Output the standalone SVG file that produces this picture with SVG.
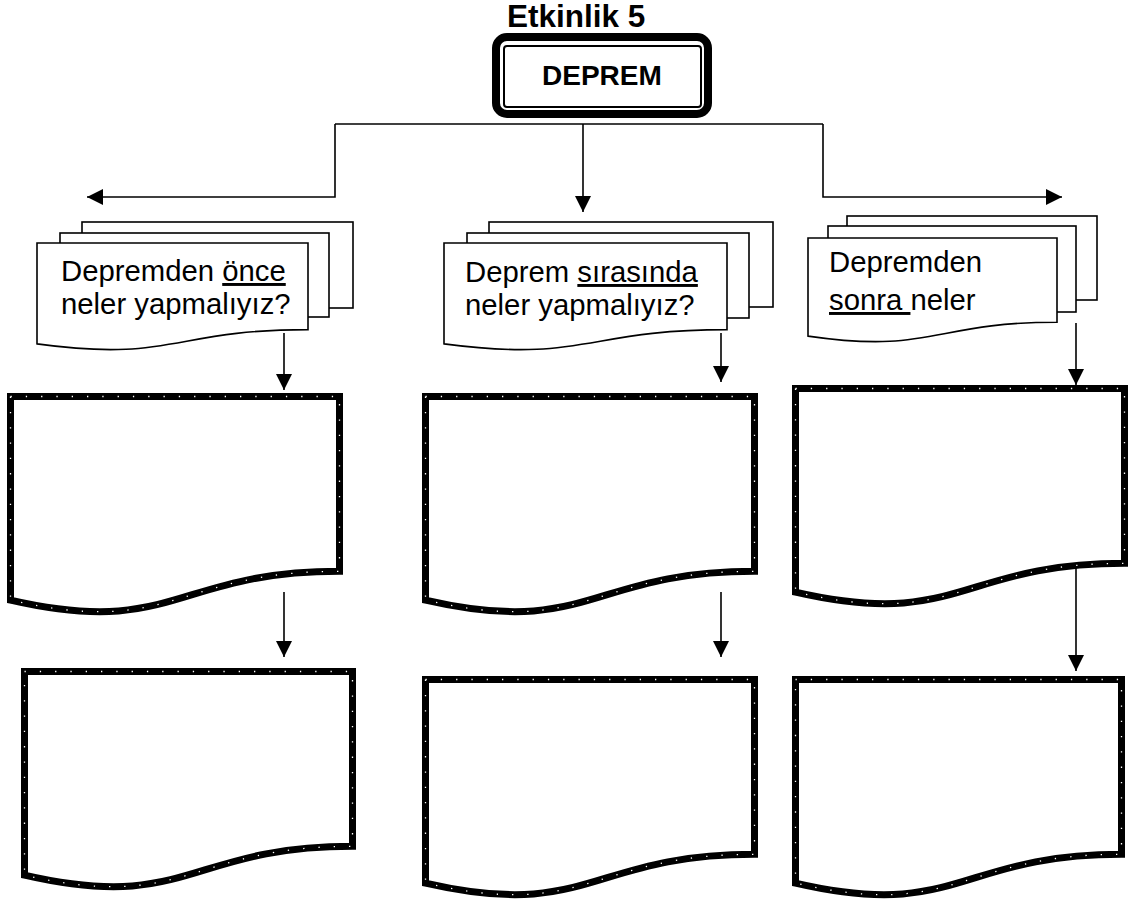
<svg xmlns="http://www.w3.org/2000/svg" xmlns:xlink="http://www.w3.org/1999/xlink" width="1134" height="902" viewBox="0 0 1134 902">
<style>
  text { font-family: "Liberation Sans", Arial, sans-serif; fill: #000; }
  .title { font-size: 31.5px; font-weight: bold; }
  .head { font-size: 28px; font-weight: bold; }
  .lbl { font-size: 29.3px; }
  .sheet { fill: #fff; stroke: #000; stroke-width: 1.6; }
  .thick { fill: #fff; stroke: #000; stroke-width: 7; stroke-linejoin: miter; }
  .dots { fill: none; stroke: #fff; stroke-width: 1.3; stroke-dasharray: 1.3 14; }
  .con { fill: none; stroke: #000; stroke-width: 1.6; }
</style>
<defs>
  <marker id="arr" viewBox="0 0 16 16" refX="16" refY="8" markerWidth="16" markerHeight="16" markerUnits="userSpaceOnUse" orient="auto">
    <path d="M0,0 L16,8 L0,16 z" fill="#000"/>
  </marker>
  <path id="p1" d="M10.5,396.5 H339.5 V571.3 C175,571.3 175,637.9 10.5,600.1 Z"/>
  <path id="p2" d="M425.5,396.5 H754.5 V571.3 C590,571.3 590,637.9 425.5,600.1 Z"/>
  <path id="p3" d="M24.5,671.5 H352.5 V846.3 C188.5,846.3 188.5,912.9 24.5,875.1 Z"/>
  <path id="p4" d="M425.5,679.5 H754.5 V854.3 C590,854.3 590,920.9 425.5,883.1 Z"/>
  <path id="p5" d="M795.5,388.5 H1124.5 V563.3 C960,563.3 960,629.9 795.5,592.1 Z"/>
  <path id="p6" d="M795.5,679.5 H1121.5 V854.3 C958.5,854.3 958.5,920.9 795.5,883.1 Z"/>
</defs>
<rect width="1134" height="902" fill="#fff"/>

<g id="title">
  <text class="title" x="507" y="27">Etkinlik 5</text>
</g>

<g id="deprem">
  <rect x="496" y="37" width="212" height="77" rx="11" fill="#fff" stroke="#000" stroke-width="8"/>
  <rect x="504" y="46" width="197" height="61" rx="3" fill="none" stroke="#000" stroke-width="2"/>
  <text class="head" x="542" y="85">DEPREM</text>
</g>

<g id="connectors">
  <path class="con" d="M335,124 H823"/>
  <path class="con" d="M335,124 V197 H87" marker-end="url(#arr)"/>
  <path class="con" d="M823,124 V197 H1062" marker-end="url(#arr)"/>
  <path class="con" d="M583,124 V212" marker-end="url(#arr)"/>
  <path class="con" d="M284,333 V390" marker-end="url(#arr)"/>
  <path class="con" d="M284,592 V657" marker-end="url(#arr)"/>
  <path class="con" d="M721,333 V382" marker-end="url(#arr)"/>
  <path class="con" d="M721,592 V657" marker-end="url(#arr)"/>
  <path class="con" d="M1076,323 V385" marker-end="url(#arr)"/>
  <path class="con" d="M1076,568 V671" marker-end="url(#arr)"/>
</g>

<g id="q1">
  <rect class="sheet" x="82" y="222" width="271" height="86"/>
  <rect class="sheet" x="60" y="233" width="269" height="84"/>
  <path class="sheet" d="M37,243 H308 V329.6 C172.5,329.6 172.5,362.6 37,343.9 Z"/>
  <text class="lbl" x="61" y="281">Depremden <tspan text-decoration="underline">önce</tspan></text>
  <text class="lbl" x="61" y="314">neler yapmalıyız?</text>
</g>

<g id="q2">
  <rect class="sheet" x="489" y="222" width="284" height="85"/>
  <rect class="sheet" x="467" y="233" width="282" height="85"/>
  <path class="sheet" d="M444,243 H727 V329.6 C585.5,329.6 585.5,362.6 444,343.9 Z"/>
  <text class="lbl" x="465" y="282">Deprem <tspan text-decoration="underline">sırasında</tspan></text>
  <text class="lbl" x="465" y="315">neler yapmalıyız?</text>
</g>

<g id="q3">
  <rect class="sheet" x="847" y="216" width="250" height="84"/>
  <rect class="sheet" x="828" y="226" width="248" height="86"/>
  <path class="sheet" d="M808,238 H1057 V322.2 C932.5,322.2 932.5,354.3 808,336.1 Z"/>
  <text class="lbl" x="829" y="272">Depremden</text>
  <text class="lbl" x="829" y="310"><tspan text-decoration="underline">sonra </tspan>neler</text>
</g>

<g id="box1">
  <use xlink:href="#p1" class="thick"/>
  <use xlink:href="#p1" class="dots"/>
</g>
<g id="box2">
  <use xlink:href="#p2" class="thick"/>
  <use xlink:href="#p2" class="dots"/>
</g>
<g id="box3">
  <use xlink:href="#p3" class="thick"/>
  <use xlink:href="#p3" class="dots"/>
</g>
<g id="box4">
  <use xlink:href="#p4" class="thick"/>
  <use xlink:href="#p4" class="dots"/>
</g>
<g id="box5">
  <use xlink:href="#p5" class="thick"/>
  <use xlink:href="#p5" class="dots"/>
</g>
<g id="box6">
  <use xlink:href="#p6" class="thick"/>
  <use xlink:href="#p6" class="dots"/>
</g>
</svg>
